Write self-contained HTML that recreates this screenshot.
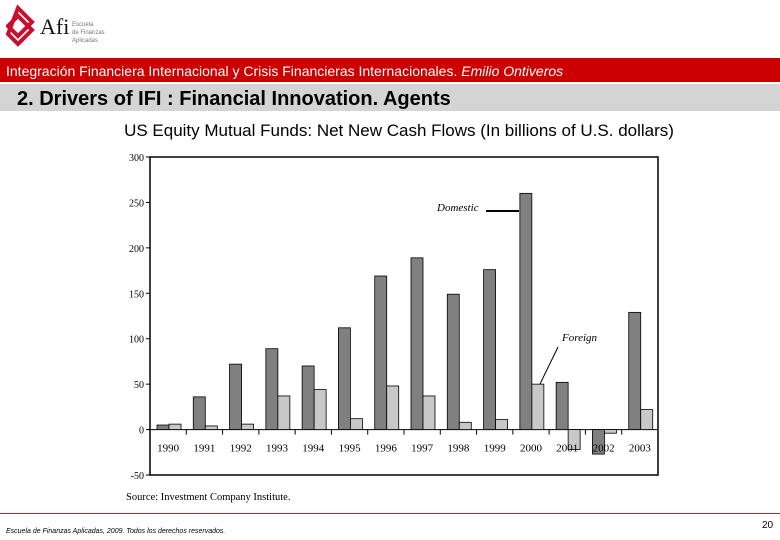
<!DOCTYPE html>
<html><head><meta charset="utf-8"><style>
body{margin:0;width:780px;height:540px;background:#fff;position:relative;overflow:hidden;font-family:"Liberation Sans",sans-serif}
.a{position:absolute}
</style></head><body>
<div class="a" style="left:6px;top:4px;width:110px;height:48px">
<svg width="110" height="48"><g fill="none" stroke="#c8102e" stroke-width="4"><path d="M12 4 L26 18 L12 32 L2 22 L12 12 L26 26 L12 40 L2 30 Z"/></g>
<text x="34" y="30" font-family="Liberation Serif" font-size="22" fill="#111">Afi</text>
<text x="66" y="22" font-size="6" fill="#777">Escuela</text><text x="66" y="30" font-size="6" fill="#777">de Finanzas</text><text x="66" y="38" font-size="6" fill="#777">Aplicadas</text></svg></div>
<div class="a" style="left:0;top:58px;width:780px;height:24px;background:#cc0000;color:#fff;font-size:14px;line-height:26px;padding-left:6px;box-sizing:border-box;white-space:nowrap">Integración Financiera Internacional y Crisis Financieras Internacionales. <i>Emilio Ontiveros</i></div>
<div class="a" style="left:0;top:84px;width:780px;height:27px;background:#d4d4d4;font-size:20px;font-weight:bold;line-height:30px;padding-left:17px;box-sizing:border-box">2. Drivers of IFI : Financial Innovation. Agents</div>
<div class="a" style="left:0;top:121px;width:798px;text-align:center;font-size:17px">US Equity Mutual Funds: Net New Cash Flows (In billions of U.S. dollars)</div>
<svg class="a" style="left:0;top:0" width="780" height="540" id="ch"></svg>
<div class="a" style="left:0;top:513px;width:780px;height:1px;background:#a33"></div>
<div class="a" style="left:6px;top:528px;font-size:7px;font-style:italic">Escuela de Finanzas Aplicadas, 2009. Todos los derechos reservados.</div>
<div class="a" style="left:762px;top:520px;font-size:10px">20</div>
<script>
const years=["1990","1991","1992","1993","1994","1995","1996","1997","1998","1999","2000","2001","2002","2003"];
const domestic=[5,36,72,89,70,112,169,189,149,176,260,52,-27,129];
const foreign=[6,4,6,37,44,12,48,37,8,11,50,-22,-4,22];
const ticks=[300,250,200,150,100,50,0,-50];
const NS="http://www.w3.org/2000/svg",s=document.getElementById('ch');
const L=150,R=658,T=157,B=475;
const y=v=>T+(300-v)*(B-T)/350;
const gw=(R-L)/years.length;
function mk(t,a,txt){const e=document.createElementNS(NS,t);for(const k in a)e.setAttribute(k,a[k]);if(txt!=null)e.textContent=txt;s.appendChild(e);return e;}
let f=mk('rect',{x:L,y:T,width:R-L,height:B-T,fill:'none',stroke:'#000','stroke-width':1.5});

ticks.forEach(t=>{let e=mk('text',{x:L-6,y:y(t)+4,'text-anchor':'end','font-family':'Liberation Serif','font-size':10},t);

mk('line',{x1:L-4,x2:L,y1:y(t),y2:y(t),stroke:'#000'});});
let z=mk('line',{x1:L,x2:R,y1:y(0),y2:y(0),stroke:'#000'});
years.forEach((yr,i)=>{const x0=L+i*gw;
mk('line',{x1:x0,x2:x0,y1:y(0),y2:y(0)+5,stroke:'#000'});
let d=domestic[i],fo=foreign[i];
let b=mk('rect',{x:x0+7,y:Math.min(y(d),y(0)),width:12,height:Math.abs(y(d)-y(0)),fill:'#808080',stroke:'#000','stroke-width':0.8});

let c=mk('rect',{x:x0+19,y:Math.min(y(fo),y(0)),width:12,height:Math.abs(y(fo)-y(0)),fill:'#c8c8c8',stroke:'#000','stroke-width':0.8});

let t=mk('text',{x:x0+gw/2,y:y(0)+22,'text-anchor':'middle','font-family':'Liberation Serif','font-size':11},yr);
});
let d1=mk('text',{x:437,y:211,'font-family':'Liberation Serif','font-style':'italic','font-size':11},'Domestic');
mk('line',{x1:486,x2:519,y1:211,y2:211,stroke:'#000','stroke-width':2});
let f1=mk('text',{x:562,y:341,'font-family':'Liberation Serif','font-style':'italic','font-size':11},'Foreign');
mk('line',{x1:558,x2:540,y1:347,y2:384,stroke:'#000'});
let so=mk('text',{x:126,y:500,'font-family':'Liberation Serif','font-size':10.5},'Source: Investment Company Institute.');
</script>
</body></html>
